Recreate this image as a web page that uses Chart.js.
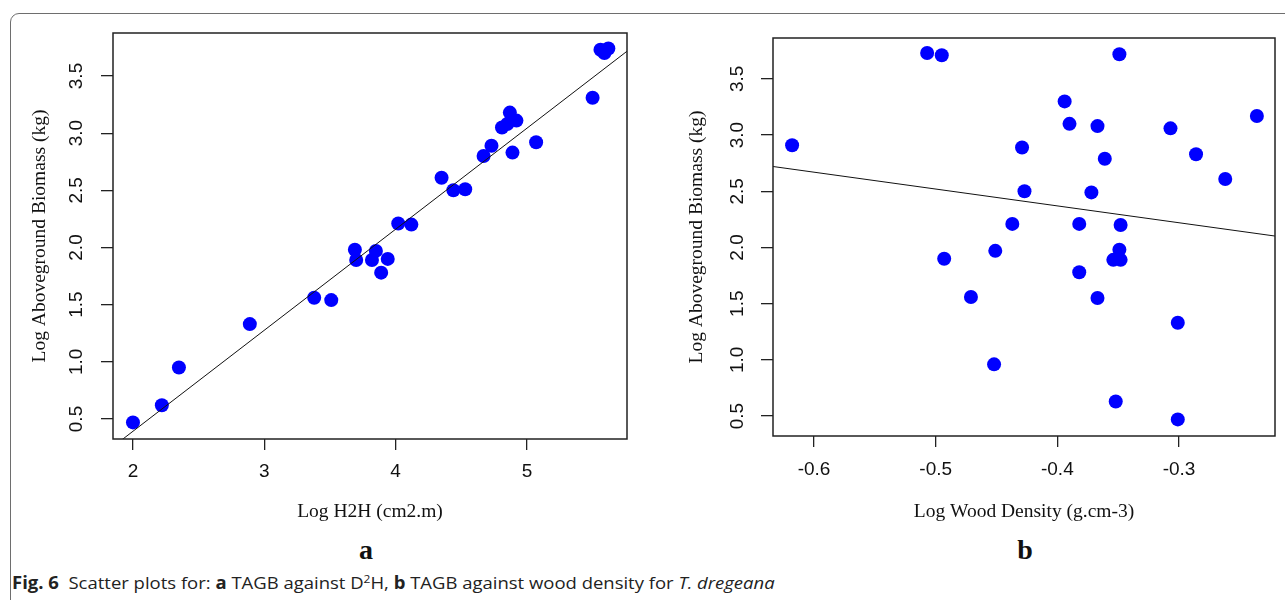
<!DOCTYPE html>
<html>
<head>
<meta charset="utf-8">
<script src="https://cdn.jsdelivr.net/npm/chart.js@4.4.0/dist/chart.umd.min.js"></script>
<style>
    html, body { margin: 0; padding: 0; background: #fff; }
    body { width: 1285px; height: 600px; position: relative; overflow: hidden; }
    #frame {
        position: absolute; left: 10px; top: 13px; width: 1320px; height: 640px;
        border: 1.5px solid #6e6e6e; border-radius: 9px;
    }
    .wrap { position: absolute; top: 0; height: 530px; }
    #wrapA { left: 0; width: 650px; }
    #wrapB { left: 650px; width: 635px; }
    .panel {
        position: absolute; top: 536px; font: bold 28px "Liberation Serif";
        line-height: 28px; color: #111; transform: translateX(-50%);
    }
    #caption {
        position: absolute; left: 12px; top: 574px; white-space: nowrap;
        font: 17px "Open Sans"; line-height: 17px; color: #222; transform-origin: 0 0;
    }
    #caption sup { font-size: 0.65em; line-height: 0; vertical-align: 0.55em; }
</style>
</head>
<body>
<div id="frame"></div>
<div class="wrap" id="wrapA"><canvas id="chart-a" width="650" height="530"></canvas></div>
<div class="wrap" id="wrapB"><canvas id="chart-b" width="635" height="530"></canvas></div>
<div class="panel" style="left:366px">a</div>
<div class="panel" style="left:1025px">b</div>
<div id="caption"><b>Fig. 6</b>&nbsp; Scatter plots for: <b>a</b> TAGB against D<sup>2</sup>H, <b>b</b> TAGB against wood density for <i>T. dregeana</i></div>

<script>
// ===================== DATA =====================

// panel a: log D2H vs log aboveground biomass
const aX = [2.00, 2.22, 2.35, 2.89, 3.38, 3.51, 3.69, 3.70, 3.82, 3.85, 3.94, 3.89,
            4.02, 4.12, 4.35, 4.44, 4.53, 4.67, 4.73, 4.81, 4.85, 4.87, 4.92, 4.89,
            5.07, 5.50, 5.56, 5.59, 5.62];
const aY = [0.47, 0.62, 0.95, 1.33, 1.56, 1.54, 1.98, 1.89, 1.89, 1.97, 1.90, 1.78,
            2.21, 2.20, 2.61, 2.50, 2.51, 2.80, 2.89, 3.05, 3.08, 3.18, 3.11, 2.83,
            2.92, 3.31, 3.73, 3.70, 3.74];
const aFitX = [1.85, 5.80];
const aFitY = [0.26, 3.75];
const aXTicks = [2, 3, 4, 5];
const aYTicks = [0.5, 1.0, 1.5, 2.0, 2.5, 3.0, 3.5];

// panel b: log wood density vs log aboveground biomass
const bX = [-0.618, -0.507, -0.495, -0.349, -0.394, -0.390, -0.367, -0.307, -0.236, -0.429,
            -0.361, -0.286, -0.262, -0.427, -0.372, -0.437, -0.382, -0.348, -0.493, -0.451,
            -0.349, -0.354, -0.348, -0.382, -0.471, -0.367, -0.301, -0.452, -0.352, -0.301];
const bY = [2.91, 3.73, 3.71, 3.72, 3.30, 3.10, 3.08, 3.06, 3.17, 2.89,
            2.79, 2.83, 2.61, 2.50, 2.49, 2.21, 2.21, 2.20, 1.90, 1.97,
            1.98, 1.89, 1.89, 1.78, 1.56, 1.55, 1.33, 0.96, 0.63, 0.47];
const bFitX = [-0.64, -0.22];
const bFitY = [2.73, 2.10];
const bXTicks = [-0.6, -0.5, -0.4, -0.3];
const bYTicks = [0.5, 1.0, 1.5, 2.0, 2.5, 3.0, 3.5];

// ===================== PLOT BOX =====================

const boxPlugin = {
    id: 'box',
    afterDraw(chart) {
        const { ctx, chartArea: a } = chart;
        ctx.save();
        ctx.strokeStyle = '#222';
        ctx.lineWidth = 1.5;
        ctx.strokeRect(a.left, a.top, a.right - a.left, a.bottom - a.top);
        ctx.restore();
    }
};

const pts = (xs, ys) => xs.map((x, i) => ({ x, y: ys[i] }));

// ===================== SHARED OPTIONS =====================

function makeOptions(p) {
    const tickFont = { family: 'Liberation Sans', size: 19 };
    const titleFont = { family: 'Liberation Serif', size: 19.5 };
    return {
        responsive: false,
        animation: false,
        events: [],
        layout: { padding: { top: p.top, right: p.right, left: 0, bottom: 0 } },
        plugins: { legend: { display: false }, tooltip: { enabled: false } },
        scales: {
            x: {
                type: 'linear', min: p.xMin, max: p.xMax, bounds: 'data',
                afterBuildTicks: s => { s.ticks = p.xTicks.map(v => ({ value: v })); },
                afterFit: s => { s.height = p.xAxisH; },
                grid: { drawOnChartArea: false, tickLength: 11, color: '#222', lineWidth: 1.3 },
                border: { display: false },
                ticks: {
                    color: '#111', font: tickFont, padding: p.xPad, maxRotation: 0, autoSkip: false,
                    callback: v => v.toFixed(p.xDec)
                },
                title: { display: true, text: p.xTitle, color: '#111', font: titleFont, padding: { bottom: 6 } }
            },
            y: {
                type: 'linear', min: p.yMin, max: p.yMax, bounds: 'data',
                afterBuildTicks: s => { s.ticks = p.yTicks.map(v => ({ value: v })); },
                afterFit: s => { s.width = p.yAxisW; },
                grid: { drawOnChartArea: false, tickLength: 12, color: '#222', lineWidth: 1.3 },
                border: { display: false },
                ticks: {
                    color: '#111', font: tickFont, padding: p.yPad, minRotation: 90, maxRotation: 90,
                    crossAlign: 'center', autoSkip: false,
                    callback: v => v.toFixed(1)
                },
                title: { display: true, text: 'Log Aboveground Biomass (kg)', color: '#111', font: titleFont, padding: { top: p.yTitlePad } }
            }
        }
    };
}

function makeData(xs, ys, fx, fy) {
    return {
        datasets: [
            {
                type: 'line', data: pts(fx, fy), borderColor: '#111', borderWidth: 1,
                pointRadius: 0, fill: false, order: 0, clip: 0
            },
            {
                type: 'scatter', data: pts(xs, ys), backgroundColor: '#0000ff', borderWidth: 0,
                pointRadius: 7, order: 1, clip: false
            }
        ]
    };
}

// ===================== CHARTS =====================

new Chart(document.getElementById('chart-a'), {
    type: 'scatter',
    data: makeData(aX, aY, aFitX, aFitY),
    options: makeOptions({
        top: 33, right: 23, xAxisH: 91, yAxisW: 113, xPad: 10.6, yPad: 10.8, yTitlePad: 28.6,
        xMin: 1.848, xMax: 5.762, yMin: 0.325, yMax: 3.876,
        xTicks: aXTicks, yTicks: aYTicks, xDec: 0, xTitle: 'Log H2H (cm2.m)'
    }),
    plugins: [boxPlugin]
});

new Chart(document.getElementById('chart-b'), {
    type: 'scatter',
    data: makeData(bX, bY, bFitX, bFitY),
    options: makeOptions({
        top: 38, right: 10, xAxisH: 94, yAxisW: 123, xPad: 11.6, yPad: 9.8, yTitlePad: 35.6,
        xMin: -0.6337, xMax: -0.2211, yMin: 0.3225, yMax: 3.864,
        xTicks: bXTicks, yTicks: bYTicks, xDec: 1, xTitle: 'Log Wood Density (g.cm-3)'
    }),
    plugins: [boxPlugin]
});

// fit caption to its width in the figure
const cap = document.getElementById('caption');
cap.style.transform = 'scaleX(' + (763 / cap.scrollWidth) + ')';
</script>
</body>
</html>
